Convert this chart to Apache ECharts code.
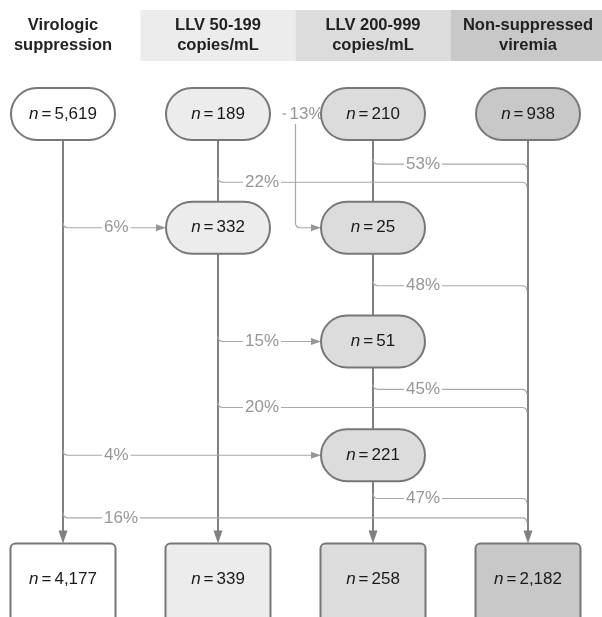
<!DOCTYPE html>
<html><head><meta charset="utf-8">
<script src="https://cdn.jsdelivr.net/npm/echarts@6/dist/echarts.min.js"></script>
<style>html,body{margin:0;padding:0;background:#fff}#chart{width:602px;height:617px}</style>
</head><body><div id="chart"></div>
<script>
// ---------------- data ----------------
const categories = ['Virologic\nsuppression', 'LLV 50-199\ncopies/mL', 'LLV 200-999\ncopies/mL', 'Non-suppressed\nviremia'];
const startCounts = [5619, 189, 210, 938];
const endCounts = [4177, 339, 258, 2182];
// intermediate nodes: [column, stage, n]
const intermediateNodes = [[1, 1, 332], [2, 1, 25], [2, 2, 51], [2, 3, 221]];
// transitions: [fromColumn, toColumn, percent]
const transitions = [[2, 3, 53], [1, 3, 22], [1, 2, 13], [0, 1, 6], [2, 3, 48], [1, 2, 15], [2, 3, 45], [1, 3, 20], [0, 2, 4], [2, 3, 47], [0, 3, 16]];

// ---------------- layout / style ----------------
const COL_FILL = ['#ffffff', '#ececec', '#dcdcdc', '#c8c8c8'];
const L = {
  pillW: 104, pillH: 52, boxW: 105, boxH: 120, boxR: 5,
  endTopRow: 3.775, endTextOffset: 36,
  headerTopRow: -0.914, headerBottomRow: -0.466, headerTextRow: -0.69,
  branchLevel: [0.44, 0.60, 1, 1, 1.51, 2, 2.42, 2.58, 3, 3.38, 3.55],
  labelOffset: [39, 25, 31],
  sideBranch: 2, sideDropCol: 1.5, sideLabelRow: 0,
  curve: 5
};
const MAIN = '#808080', BRANCH = '#a8a8a8', LABEL = '#969696', BORDER = '#777777';
const FONT = 'Liberation Sans, Arial, sans-serif';
const fmt = v => v.toLocaleString('en-US');

// node records: [col, row, n, isEnd]
const nodes = [];
startCounts.forEach((n, c) => nodes.push([c, 0, n, 0]));
intermediateNodes.forEach(d => nodes.push([d[0], d[1], d[2], 0]));
endCounts.forEach((n, c) => nodes.push([c, L.endTopRow, n, 1]));

// main vertical segments: [col, fromRow, toRow, isEnd]
const segments = [];
categories.forEach((_, c) => {
  const rows = [0].concat(intermediateNodes.filter(d => d[0] === c).map(d => d[1]).sort((a, b) => a - b));
  rows.forEach((r, k) => {
    if (k < rows.length - 1) segments.push([c, r, rows[k + 1], 0]);
    else segments.push([c, r, L.endTopRow, 1]);
  });
});
const hasNode = (c, r) => intermediateNodes.some(d => d[0] === c && d[1] === r);

const chart = echarts.init(document.getElementById('chart'), null, { renderer: 'canvas' });

function nodeText(n) {
  return {
    text: '{i|n}{e|=}{t|' + fmt(n) + '}',
    rich: {
      i: { fontStyle: 'italic', fontSize: 17, fontFamily: FONT, fill: '#1a1a1a' },
      e: { fontSize: 17, fontFamily: FONT, fill: '#1a1a1a', padding: [0, 3] },
      t: { fontSize: 17, fontFamily: FONT, fill: '#1a1a1a' }
    },
    align: 'center', verticalAlign: 'middle'
  };
}

const option = {
  animation: false,
  grid: { left: 63, right: 74, top: 114, bottom: 48 },
  xAxis: { type: 'value', min: 0, max: 3, show: false },
  yAxis: { type: 'value', min: 0, max: 4, inverse: true, show: false },
  series: [
    { // header bands
      type: 'custom', clip: false, z: 1,
      data: categories.map((c, i) => [i, 0]),
      renderItem: (params, api) => {
        const i = params.dataIndex;
        const p0 = api.coord([i - 0.5, L.headerTopRow]);
        const p1 = api.coord([i + 0.5, L.headerBottomRow]);
        const pt = api.coord([i, L.headerTextRow]);
        return { type: 'group', children: [
          { type: 'rect', shape: { x: p0[0], y: p0[1], width: p1[0] - p0[0], height: p1[1] - p0[1] }, style: { fill: COL_FILL[i] } },
          { type: 'text', x: pt[0], y: pt[1], style: { text: categories[i], fontFamily: FONT, fontWeight: 'bold', fontSize: 16.5, lineHeight: 20, fill: '#222222', align: 'center', verticalAlign: 'middle' } }
        ] };
      }
    },
    { // main vertical flows
      type: 'custom', clip: false, z: 2,
      data: segments.map(s => [s[0], s[1]]),
      renderItem: (params, api) => {
        const [c, r0, r1, isEnd] = segments[params.dataIndex];
        const x = api.coord([c, r0])[0];
        const y0 = api.coord([c, r0])[1] + L.pillH / 2;
        const y1 = isEnd ? api.coord([c, r1])[1] : api.coord([c, r1])[1] - L.pillH / 2;
        const children = [{ type: 'line', shape: { x1: x, y1: y0, x2: x, y2: isEnd ? y1 - 10 : y1 }, style: { stroke: MAIN, lineWidth: 2 } }];
        if (isEnd) children.push({ type: 'polygon', shape: { points: [[x, y1], [x - 4.5, y1 - 13], [x + 4.5, y1 - 13]] }, style: { fill: MAIN } });
        return { type: 'group', children };
      }
    },
    { // transitions
      type: 'custom', clip: false, z: 3,
      data: transitions.map((t, i) => [t[0], L.branchLevel[i]]),
      renderItem: (params, api) => {
        const i = params.dataIndex;
        const [from, to, pct] = transitions[i];
        const level = L.branchLevel[i];
        const r = L.curve;
        const y = api.coord([0, level])[1];
        const xe = api.coord([to, level])[0];
        const children = [];
        let path, lx, ly;
        const intoNode = hasNode(to, level);
        const tip = xe - L.pillW / 2;
        if (i === L.sideBranch) {
          const xd = api.coord([L.sideDropCol, 0])[0];
          const yl = api.coord([0, L.sideLabelRow])[1];
          path = `M${xd} ${yl + 10} L${xd} ${y - r} Q${xd} ${y} ${xd + r} ${y} L${tip - 9} ${y}`;
          children.push({ type: 'line', shape: { x1: xd - 13, y1: yl, x2: xd - 9.5, y2: yl }, style: { stroke: LABEL, lineWidth: 1.2 } });
          lx = xd - 8; ly = yl;
        } else {
          const xs = api.coord([from, level])[0];
          path = `M${xs} ${y - r} Q${xs} ${y} ${xs + r} ${y}`;
          if (intoNode) path += ` L${tip - 9} ${y}`;
          else path += ` L${xe - 1 - r} ${y} Q${xe - 1} ${y} ${xe - 1} ${y + r}`;
          lx = xs + L.labelOffset[from]; ly = y;
        }
        children.push({ type: 'path', shape: { pathData: path }, style: { stroke: BRANCH, lineWidth: 1.2, fill: null } });
        if (intoNode) children.push({ type: 'polygon', shape: { points: [[tip, y], [tip - 10, y - 3.5], [tip - 10, y + 3.5]] }, style: { fill: LABEL } });
        children.push({ type: 'text', x: lx, y: ly, style: { text: pct + '%', fontFamily: FONT, fontSize: 17, fill: LABEL, align: 'left', verticalAlign: 'middle', backgroundColor: i === L.sideBranch ? null : '#ffffff', padding: [0, 2] } });
        return { type: 'group', children };
      }
    },
    { // nodes
      type: 'custom', clip: false, z: 4,
      data: nodes.map(d => [d[0], d[1]]),
      renderItem: (params, api) => {
        const [c, row, n, isEnd] = nodes[params.dataIndex];
        const p = api.coord([c, row]);
        if (isEnd) {
          return { type: 'group', children: [
            { type: 'rect', shape: { x: p[0] - L.boxW / 2, y: p[1], width: L.boxW, height: L.boxH, r: L.boxR }, style: { fill: COL_FILL[c], stroke: BORDER, lineWidth: 2 } },
            { type: 'text', x: p[0], y: p[1] + L.endTextOffset, style: nodeText(n) }
          ] };
        }
        return { type: 'group', children: [
          { type: 'rect', shape: { x: p[0] - L.pillW / 2, y: p[1] - L.pillH / 2, width: L.pillW, height: L.pillH, r: L.pillH / 2 }, style: { fill: COL_FILL[c], stroke: BORDER, lineWidth: 2 } },
          { type: 'text', x: p[0], y: p[1], style: nodeText(n) }
        ] };
      }
    }
  ]
};
chart.setOption(option);
</script>
</body></html>
